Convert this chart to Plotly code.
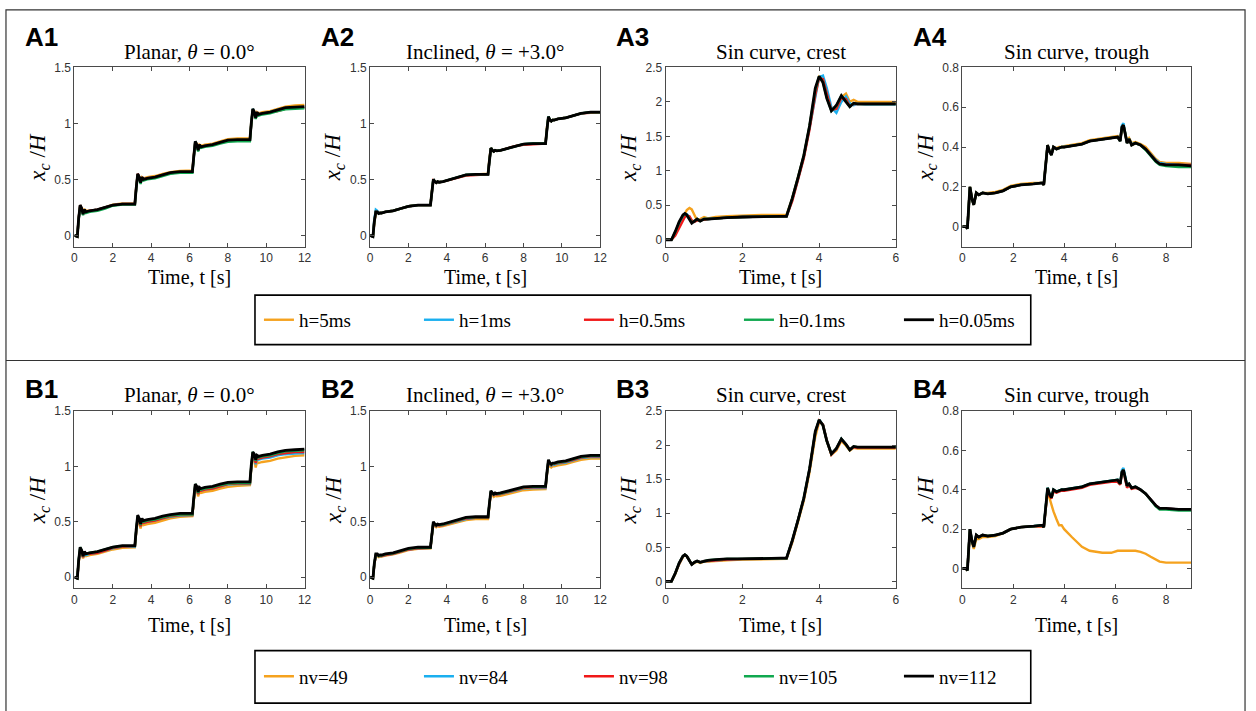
import plotly.graph_objects as go

# ---------------------------------------------------------------- data
# time grids [s]
T_STEP = [0, 0.15, 0.22, 0.3, 0.38, 0.45, 0.52, 0.6, 0.8, 1.2,
          1.6, 2.0, 2.5, 3.15, 3.22, 3.3, 3.38, 3.45, 3.52, 3.6,
          3.8, 4.2, 4.6, 5.0, 5.5, 6.15, 6.22, 6.3, 6.38, 6.45,
          6.52, 6.6, 6.8, 7.2, 7.6, 8.0, 8.5, 9.15, 9.22, 9.3,
          9.38, 9.45, 9.52, 9.6, 9.8, 10.2, 10.6, 11.0, 11.5, 12.0]
T_CREST = [0, 0.15, 0.25, 0.35, 0.45, 0.5, 0.55, 0.62, 0.68, 0.75,
           0.82, 0.9, 1.0, 1.1, 1.3, 1.6, 2.0, 2.5, 3.0, 3.15,
           3.3, 3.45, 3.6, 3.75, 3.9, 4.0, 4.1, 4.2, 4.32, 4.45,
           4.58, 4.7, 4.8, 4.9, 5.0, 5.2, 5.5, 6.0]
T_TROUGH = [0, 0.15, 0.2, 0.3, 0.38, 0.45, 0.55, 0.65, 0.8, 1.0,
            1.3, 1.6, 1.9, 2.3, 2.8, 3.15, 3.2, 3.28, 3.35, 3.42,
            3.5, 3.58, 3.7, 3.8, 3.9, 4.0, 4.3, 4.7, 5.0, 5.5,
            5.85, 6.1, 6.2, 6.27, 6.33, 6.4, 6.47, 6.55, 6.65, 6.8,
            7.0, 7.2, 7.4, 7.6, 7.75, 8.0, 8.5, 9.0]

H_LABELS = ["h=5ms", "h=1ms", "h=0.5ms", "h=0.1ms", "h=0.05ms"]
NV_LABELS = ["nv=49", "nv=84", "nv=98", "nv=105", "nv=112"]

# A1: planar, time-step study
A1_H5 = [0, -0.01, 0.15, 0.27, 0.24, 0.20, 0.23, 0.22, 0.22, 0.23,
         0.25, 0.275, 0.285, 0.285, 0.43, 0.55, 0.52, 0.48, 0.52, 0.51,
         0.52, 0.53, 0.55, 0.565, 0.575, 0.58, 0.71, 0.84, 0.82, 0.77,
         0.81, 0.80, 0.81, 0.82, 0.84, 0.86, 0.865, 0.865, 1.01, 1.13,
         1.11, 1.06, 1.10, 1.09, 1.10, 1.11, 1.13, 1.15, 1.16, 1.165]
A1_H1 = [0, -0.01, 0.15, 0.27, 0.24, 0.19, 0.23, 0.21, 0.22, 0.23,
         0.25, 0.27, 0.28, 0.28, 0.42, 0.55, 0.52, 0.47, 0.52, 0.50,
         0.51, 0.52, 0.54, 0.555, 0.565, 0.565, 0.70, 0.84, 0.81, 0.76,
         0.80, 0.79, 0.80, 0.81, 0.83, 0.845, 0.85, 0.85, 1.00, 1.13,
         1.10, 1.05, 1.09, 1.08, 1.09, 1.10, 1.12, 1.135, 1.14, 1.145]
A1_H05 = [0, -0.01, 0.15, 0.27, 0.24, 0.19, 0.23, 0.21, 0.22, 0.23,
          0.25, 0.27, 0.28, 0.28, 0.42, 0.55, 0.52, 0.47, 0.52, 0.50,
          0.51, 0.52, 0.54, 0.555, 0.565, 0.565, 0.70, 0.83, 0.81, 0.76,
          0.80, 0.79, 0.80, 0.81, 0.83, 0.845, 0.85, 0.85, 0.99, 1.12,
          1.09, 1.05, 1.09, 1.08, 1.09, 1.10, 1.11, 1.13, 1.14, 1.14]
A1_H01 = [0, -0.01, 0.14, 0.26, 0.23, 0.18, 0.22, 0.20, 0.21, 0.22,
          0.24, 0.265, 0.275, 0.275, 0.41, 0.54, 0.51, 0.46, 0.51, 0.49,
          0.50, 0.51, 0.53, 0.55, 0.56, 0.56, 0.69, 0.83, 0.80, 0.75,
          0.79, 0.78, 0.79, 0.80, 0.82, 0.835, 0.84, 0.84, 0.99, 1.12,
          1.09, 1.04, 1.08, 1.07, 1.08, 1.09, 1.11, 1.125, 1.13, 1.135]
A1_H005 = [0, -0.01, 0.15, 0.27, 0.24, 0.19, 0.23, 0.21, 0.22, 0.23,
           0.25, 0.27, 0.28, 0.28, 0.42, 0.55, 0.52, 0.47, 0.52, 0.50,
           0.51, 0.52, 0.54, 0.56, 0.57, 0.57, 0.70, 0.84, 0.81, 0.76,
           0.81, 0.79, 0.80, 0.81, 0.83, 0.85, 0.855, 0.855, 1.00, 1.13,
           1.10, 1.05, 1.10, 1.08, 1.09, 1.10, 1.12, 1.14, 1.145, 1.15]

# A2: inclined, time-step study
A2_H5 = [0, -0.01, 0.11, 0.20, 0.21, 0.20, 0.20, 0.20, 0.21, 0.22,
         0.24, 0.26, 0.27, 0.27, 0.39, 0.50, 0.48, 0.47, 0.48, 0.475,
         0.48, 0.50, 0.52, 0.54, 0.545, 0.55, 0.68, 0.78, 0.76, 0.75,
         0.76, 0.755, 0.76, 0.78, 0.80, 0.815, 0.82, 0.825, 0.96, 1.06,
         1.03, 1.02, 1.03, 1.03, 1.04, 1.05, 1.07, 1.09, 1.10, 1.10]
A2_H1 = [0, -0.01, 0.14, 0.23, 0.22, 0.20, 0.20, 0.20, 0.21, 0.22,
         0.24, 0.26, 0.27, 0.27, 0.38, 0.50, 0.48, 0.47, 0.48, 0.475,
         0.48, 0.50, 0.52, 0.54, 0.545, 0.545, 0.66, 0.78, 0.76, 0.75,
         0.76, 0.755, 0.76, 0.78, 0.80, 0.815, 0.82, 0.82, 0.94, 1.06,
         1.03, 1.02, 1.03, 1.03, 1.04, 1.05, 1.07, 1.09, 1.10, 1.10]
A2_H05 = [0, -0.01, 0.12, 0.21, 0.21, 0.195, 0.20, 0.20, 0.21, 0.22,
          0.24, 0.26, 0.27, 0.27, 0.38, 0.49, 0.48, 0.47, 0.48, 0.475,
          0.48, 0.50, 0.52, 0.535, 0.54, 0.545, 0.66, 0.78, 0.76, 0.75,
          0.76, 0.755, 0.76, 0.78, 0.80, 0.81, 0.815, 0.82, 0.94, 1.05,
          1.03, 1.02, 1.03, 1.03, 1.04, 1.05, 1.07, 1.09, 1.095, 1.10]
A2_H01 = [0, -0.01, 0.12, 0.21, 0.21, 0.195, 0.20, 0.20, 0.21, 0.22,
          0.24, 0.26, 0.27, 0.27, 0.38, 0.50, 0.48, 0.47, 0.48, 0.475,
          0.48, 0.50, 0.52, 0.54, 0.545, 0.545, 0.66, 0.78, 0.76, 0.75,
          0.76, 0.755, 0.76, 0.78, 0.80, 0.815, 0.82, 0.82, 0.94, 1.06,
          1.03, 1.02, 1.03, 1.03, 1.04, 1.05, 1.07, 1.09, 1.10, 1.10]
A2_H005 = [0, -0.01, 0.12, 0.21, 0.21, 0.195, 0.20, 0.20, 0.21, 0.22,
           0.24, 0.26, 0.27, 0.27, 0.38, 0.50, 0.48, 0.47, 0.48, 0.475,
           0.48, 0.50, 0.52, 0.54, 0.545, 0.545, 0.66, 0.78, 0.76, 0.75,
           0.76, 0.755, 0.76, 0.78, 0.80, 0.815, 0.82, 0.82, 0.94, 1.06,
           1.03, 1.02, 1.03, 1.03, 1.04, 1.05, 1.07, 1.09, 1.10, 1.10]

# A3: sine curve crest, time-step study
A3_H5 = [0, 0, 0.08, 0.20, 0.32, 0.38, 0.43, 0.46, 0.44, 0.36,
         0.28, 0.30, 0.33, 0.31, 0.33, 0.34, 0.35, 0.36, 0.36, 0.36,
         0.60, 0.90, 1.21, 1.64, 2.14, 2.36, 2.31, 2.10, 1.90, 1.93,
         2.07, 2.12, 2.00, 2.03, 2.00, 2.00, 2.00, 2.00]
A3_H1 = [0, 0, 0.10, 0.22, 0.33, 0.37, 0.37, 0.33, 0.27, 0.26,
         0.29, 0.28, 0.30, 0.30, 0.31, 0.32, 0.33, 0.34, 0.34, 0.34,
         0.58, 0.88, 1.20, 1.62, 2.10, 2.36, 2.38, 2.20, 1.92, 1.84,
         2.00, 2.08, 1.98, 1.95, 1.97, 1.96, 1.96, 1.96]
A3_H05 = [0, 0, 0.06, 0.16, 0.28, 0.33, 0.35, 0.34, 0.28, 0.26,
          0.28, 0.28, 0.29, 0.30, 0.31, 0.32, 0.33, 0.33, 0.34, 0.34,
          0.56, 0.86, 1.18, 1.60, 2.10, 2.35, 2.33, 2.12, 1.88, 1.90,
          2.06, 2.04, 1.94, 1.97, 1.97, 1.97, 1.97, 1.97]
A3_H01 = [0, 0, 0.11, 0.25, 0.35, 0.38, 0.36, 0.30, 0.25, 0.27,
          0.30, 0.27, 0.30, 0.30, 0.31, 0.32, 0.33, 0.34, 0.34, 0.34,
          0.60, 0.90, 1.22, 1.65, 2.17, 2.37, 2.29, 2.06, 1.87, 1.94,
          2.09, 2.01, 1.93, 1.98, 1.97, 1.97, 1.97, 1.97]
A3_H005 = [0, 0, 0.12, 0.26, 0.36, 0.38, 0.36, 0.30, 0.24, 0.27,
           0.30, 0.27, 0.30, 0.30, 0.31, 0.32, 0.33, 0.34, 0.34, 0.34,
           0.60, 0.90, 1.22, 1.65, 2.20, 2.37, 2.28, 2.05, 1.87, 1.95,
           2.09, 2.00, 1.93, 1.98, 1.97, 1.97, 1.97, 1.97]

# A4: sine curve trough, time-step study
A4_H5 = [0, 0, -0.01, 0.20, 0.14, 0.11, 0.17, 0.16, 0.17, 0.17,
         0.175, 0.185, 0.205, 0.215, 0.22, 0.22, 0.21, 0.32, 0.41, 0.38,
         0.37, 0.40, 0.395, 0.40, 0.40, 0.405, 0.41, 0.42, 0.435, 0.445,
         0.45, 0.455, 0.44, 0.49, 0.51, 0.47, 0.43, 0.445, 0.42, 0.425,
         0.415, 0.40, 0.37, 0.34, 0.325, 0.32, 0.32, 0.315]
A4_H1 = [0, 0, -0.01, 0.20, 0.14, 0.11, 0.17, 0.16, 0.17, 0.165,
         0.17, 0.18, 0.20, 0.21, 0.215, 0.22, 0.21, 0.32, 0.41, 0.38,
         0.36, 0.40, 0.39, 0.395, 0.40, 0.40, 0.405, 0.415, 0.43, 0.44,
         0.445, 0.45, 0.43, 0.51, 0.52, 0.47, 0.42, 0.44, 0.415, 0.42,
         0.41, 0.39, 0.36, 0.335, 0.32, 0.315, 0.31, 0.31]
A4_H05 = [0, 0, -0.01, 0.20, 0.14, 0.11, 0.17, 0.16, 0.17, 0.165,
          0.17, 0.18, 0.20, 0.21, 0.215, 0.22, 0.21, 0.32, 0.41, 0.38,
          0.36, 0.40, 0.39, 0.395, 0.40, 0.40, 0.405, 0.415, 0.43, 0.44,
          0.445, 0.45, 0.43, 0.50, 0.51, 0.46, 0.42, 0.44, 0.41, 0.42,
          0.41, 0.39, 0.36, 0.33, 0.315, 0.31, 0.31, 0.31]
A4_H01 = [0, 0, -0.01, 0.20, 0.14, 0.11, 0.17, 0.16, 0.17, 0.165,
          0.17, 0.18, 0.20, 0.21, 0.215, 0.22, 0.21, 0.32, 0.41, 0.38,
          0.36, 0.40, 0.39, 0.395, 0.40, 0.40, 0.405, 0.415, 0.43, 0.44,
          0.445, 0.45, 0.43, 0.50, 0.51, 0.46, 0.42, 0.44, 0.41, 0.42,
          0.41, 0.385, 0.355, 0.325, 0.31, 0.305, 0.30, 0.30]
A4_H005 = [0, 0, -0.01, 0.20, 0.14, 0.11, 0.17, 0.16, 0.17, 0.165,
           0.17, 0.18, 0.20, 0.21, 0.215, 0.22, 0.21, 0.32, 0.41, 0.38,
           0.36, 0.40, 0.39, 0.395, 0.40, 0.40, 0.405, 0.415, 0.43, 0.44,
           0.445, 0.45, 0.43, 0.50, 0.51, 0.46, 0.42, 0.44, 0.41, 0.42,
           0.41, 0.39, 0.36, 0.33, 0.315, 0.31, 0.31, 0.305]

# B1: planar, vertex-count study
B1_NV49 = [0, -0.01, 0.13, 0.24, 0.21, 0.17, 0.20, 0.19, 0.20, 0.21,
           0.23, 0.25, 0.265, 0.27, 0.40, 0.52, 0.49, 0.44, 0.49, 0.47,
           0.48, 0.49, 0.51, 0.53, 0.545, 0.55, 0.68, 0.80, 0.78, 0.73,
           0.77, 0.76, 0.77, 0.78, 0.80, 0.815, 0.825, 0.83, 0.97, 1.08,
           1.06, 0.99, 1.04, 1.03, 1.04, 1.05, 1.07, 1.08, 1.095, 1.10]
B1_NV84 = [0, -0.01, 0.14, 0.26, 0.23, 0.18, 0.22, 0.20, 0.21, 0.22,
           0.24, 0.26, 0.275, 0.275, 0.41, 0.54, 0.51, 0.46, 0.51, 0.49,
           0.50, 0.51, 0.53, 0.545, 0.555, 0.56, 0.69, 0.82, 0.80, 0.75,
           0.79, 0.78, 0.79, 0.80, 0.82, 0.835, 0.84, 0.84, 0.98, 1.11,
           1.08, 1.02, 1.07, 1.06, 1.07, 1.08, 1.10, 1.11, 1.115, 1.12]
B1_NV98 = [0, -0.01, 0.14, 0.26, 0.23, 0.18, 0.22, 0.21, 0.21, 0.22,
           0.24, 0.265, 0.275, 0.28, 0.41, 0.54, 0.51, 0.46, 0.51, 0.49,
           0.50, 0.51, 0.53, 0.55, 0.56, 0.56, 0.69, 0.83, 0.80, 0.75,
           0.79, 0.78, 0.79, 0.80, 0.82, 0.84, 0.845, 0.845, 0.99, 1.12,
           1.09, 1.03, 1.08, 1.07, 1.08, 1.09, 1.11, 1.12, 1.13, 1.13]
B1_NV105 = [0, -0.01, 0.15, 0.27, 0.24, 0.19, 0.23, 0.21, 0.22, 0.23,
            0.25, 0.27, 0.28, 0.28, 0.42, 0.55, 0.52, 0.47, 0.52, 0.50,
            0.51, 0.52, 0.54, 0.555, 0.565, 0.565, 0.70, 0.84, 0.81, 0.76,
            0.80, 0.79, 0.80, 0.81, 0.83, 0.845, 0.85, 0.85, 1.00, 1.13,
            1.10, 1.05, 1.09, 1.08, 1.09, 1.10, 1.12, 1.135, 1.14, 1.145]
B1_NV112 = [0, -0.01, 0.15, 0.27, 0.24, 0.19, 0.23, 0.21, 0.22, 0.23,
            0.25, 0.27, 0.285, 0.285, 0.43, 0.56, 0.53, 0.48, 0.53, 0.51,
            0.52, 0.53, 0.55, 0.565, 0.575, 0.575, 0.71, 0.84, 0.82, 0.77,
            0.81, 0.80, 0.81, 0.82, 0.84, 0.855, 0.86, 0.86, 1.01, 1.13,
            1.11, 1.06, 1.10, 1.09, 1.10, 1.11, 1.13, 1.145, 1.15, 1.155]

# B2: inclined, vertex-count study
B2_NV49 = [0, -0.01, 0.11, 0.19, 0.19, 0.18, 0.185, 0.185, 0.195, 0.205,
           0.225, 0.245, 0.255, 0.26, 0.37, 0.48, 0.46, 0.45, 0.46, 0.455,
           0.46, 0.48, 0.50, 0.515, 0.525, 0.525, 0.64, 0.76, 0.74, 0.725,
           0.735, 0.73, 0.735, 0.75, 0.77, 0.785, 0.79, 0.795, 0.92, 1.03,
           1.00, 0.99, 1.00, 1.00, 1.01, 1.02, 1.04, 1.06, 1.07, 1.07]
B2_NV84 = [0, -0.01, 0.115, 0.20, 0.20, 0.19, 0.19, 0.19, 0.20, 0.21,
           0.23, 0.25, 0.26, 0.265, 0.375, 0.49, 0.47, 0.46, 0.47, 0.465,
           0.47, 0.49, 0.51, 0.525, 0.535, 0.535, 0.65, 0.77, 0.75, 0.74,
           0.745, 0.745, 0.75, 0.765, 0.785, 0.80, 0.805, 0.805, 0.93, 1.045,
           1.015, 1.005, 1.015, 1.015, 1.025, 1.035, 1.055, 1.075, 1.085, 1.085]
B2_NV98 = [0, -0.01, 0.115, 0.20, 0.20, 0.19, 0.19, 0.19, 0.20, 0.21,
           0.23, 0.25, 0.26, 0.265, 0.375, 0.49, 0.47, 0.46, 0.47, 0.465,
           0.47, 0.49, 0.51, 0.53, 0.535, 0.535, 0.65, 0.77, 0.75, 0.74,
           0.75, 0.745, 0.75, 0.77, 0.79, 0.805, 0.81, 0.81, 0.93, 1.05,
           1.02, 1.01, 1.02, 1.02, 1.03, 1.04, 1.06, 1.08, 1.09, 1.09]
B2_NV105 = [0, -0.01, 0.12, 0.205, 0.205, 0.19, 0.195, 0.195, 0.205, 0.215,
            0.235, 0.255, 0.265, 0.265, 0.375, 0.495, 0.475, 0.465, 0.475, 0.47,
            0.475, 0.495, 0.515, 0.535, 0.54, 0.54, 0.655, 0.775, 0.755, 0.745,
            0.755, 0.75, 0.755, 0.775, 0.795, 0.81, 0.815, 0.815, 0.935, 1.055,
            1.025, 1.015, 1.025, 1.025, 1.035, 1.045, 1.065, 1.085, 1.095, 1.095]
B2_NV112 = [0, -0.01, 0.12, 0.21, 0.21, 0.195, 0.20, 0.20, 0.21, 0.22,
            0.24, 0.26, 0.27, 0.27, 0.38, 0.50, 0.48, 0.47, 0.48, 0.475,
            0.48, 0.50, 0.52, 0.54, 0.545, 0.545, 0.66, 0.78, 0.76, 0.75,
            0.76, 0.755, 0.76, 0.78, 0.80, 0.815, 0.82, 0.82, 0.94, 1.06,
            1.03, 1.02, 1.03, 1.03, 1.04, 1.05, 1.07, 1.09, 1.10, 1.10]

# B3: sine curve crest, vertex-count study
B3_NV49 = [0, 0, 0.11, 0.25, 0.36, 0.38, 0.37, 0.31, 0.25, 0.27,
           0.29, 0.27, 0.29, 0.29, 0.30, 0.31, 0.32, 0.32, 0.33, 0.33,
           0.57, 0.87, 1.18, 1.60, 2.12, 2.34, 2.30, 2.06, 1.86, 1.92,
           2.06, 1.99, 1.92, 1.96, 1.95, 1.95, 1.95, 1.95]
B3_NV84 = [0, 0, 0.12, 0.26, 0.37, 0.39, 0.37, 0.31, 0.25, 0.28,
           0.30, 0.28, 0.30, 0.30, 0.31, 0.32, 0.33, 0.33, 0.34, 0.34,
           0.59, 0.89, 1.21, 1.64, 2.18, 2.37, 2.30, 2.07, 1.87, 1.94,
           2.09, 2.01, 1.93, 1.97, 1.97, 1.97, 1.97, 1.97]
B3_NV98 = [0, 0, 0.12, 0.26, 0.37, 0.39, 0.37, 0.31, 0.25, 0.28,
           0.30, 0.28, 0.30, 0.30, 0.31, 0.32, 0.33, 0.33, 0.34, 0.34,
           0.59, 0.89, 1.21, 1.64, 2.18, 2.36, 2.30, 2.07, 1.86, 1.94,
           2.08, 2.01, 1.93, 1.97, 1.96, 1.96, 1.96, 1.96]
B3_NV105 = [0, 0, 0.12, 0.27, 0.37, 0.39, 0.37, 0.31, 0.25, 0.28,
            0.30, 0.28, 0.30, 0.31, 0.32, 0.33, 0.33, 0.34, 0.34, 0.34,
            0.60, 0.90, 1.22, 1.65, 2.19, 2.37, 2.29, 2.06, 1.87, 1.95,
            2.09, 2.01, 1.93, 1.98, 1.97, 1.97, 1.97, 1.97]
B3_NV112 = [0, 0, 0.12, 0.27, 0.37, 0.39, 0.37, 0.31, 0.25, 0.28,
            0.30, 0.28, 0.30, 0.31, 0.32, 0.33, 0.33, 0.34, 0.34, 0.34,
            0.60, 0.90, 1.22, 1.65, 2.20, 2.37, 2.29, 2.06, 1.87, 1.95,
            2.09, 2.01, 1.93, 1.98, 1.97, 1.97, 1.97, 1.97]

# B4: sine curve trough, vertex-count study
B4_NV49 = [0, 0, -0.01, 0.19, 0.13, 0.10, 0.15, 0.15, 0.16, 0.16,
           0.165, 0.18, 0.20, 0.21, 0.215, 0.215, 0.21, 0.31, 0.39, 0.36,
           0.32, 0.29, 0.25, 0.22, 0.22, 0.20, 0.16, 0.11, 0.09, 0.08,
           0.08, 0.09, 0.09, 0.09, 0.09, 0.09, 0.09, 0.09, 0.09, 0.09,
           0.085, 0.075, 0.06, 0.045, 0.035, 0.03, 0.03, 0.03]
B4_NV84 = [0, 0, -0.01, 0.20, 0.14, 0.11, 0.17, 0.16, 0.17, 0.165,
           0.17, 0.18, 0.20, 0.21, 0.215, 0.22, 0.21, 0.32, 0.41, 0.38,
           0.36, 0.40, 0.39, 0.395, 0.40, 0.40, 0.405, 0.415, 0.43, 0.44,
           0.445, 0.45, 0.43, 0.50, 0.51, 0.46, 0.42, 0.43, 0.41, 0.415,
           0.40, 0.38, 0.35, 0.32, 0.305, 0.305, 0.30, 0.30]
B4_NV98 = [0, 0, -0.01, 0.20, 0.14, 0.11, 0.17, 0.16, 0.17, 0.165,
           0.17, 0.18, 0.20, 0.21, 0.215, 0.215, 0.21, 0.32, 0.40, 0.37,
           0.355, 0.39, 0.385, 0.39, 0.395, 0.395, 0.40, 0.41, 0.425, 0.435,
           0.44, 0.44, 0.425, 0.49, 0.50, 0.45, 0.41, 0.425, 0.405, 0.41,
           0.40, 0.38, 0.35, 0.32, 0.305, 0.305, 0.30, 0.30]
B4_NV105 = [0, 0, -0.01, 0.20, 0.14, 0.11, 0.17, 0.16, 0.17, 0.165,
            0.17, 0.18, 0.20, 0.21, 0.215, 0.22, 0.21, 0.32, 0.41, 0.38,
            0.36, 0.40, 0.39, 0.395, 0.40, 0.40, 0.405, 0.415, 0.43, 0.44,
            0.445, 0.45, 0.43, 0.49, 0.50, 0.46, 0.42, 0.43, 0.41, 0.415,
            0.40, 0.38, 0.35, 0.315, 0.30, 0.30, 0.295, 0.295]
B4_NV112 = [0, 0, -0.01, 0.20, 0.14, 0.11, 0.17, 0.16, 0.17, 0.165,
            0.17, 0.18, 0.20, 0.21, 0.215, 0.22, 0.21, 0.32, 0.41, 0.38,
            0.36, 0.40, 0.39, 0.395, 0.40, 0.40, 0.405, 0.415, 0.43, 0.44,
            0.445, 0.45, 0.43, 0.49, 0.50, 0.46, 0.42, 0.43, 0.41, 0.415,
            0.40, 0.38, 0.35, 0.32, 0.305, 0.305, 0.30, 0.30]

# ---------------------------------------------------------------- layout
W, H = 1256, 711
COLORS = ["#F5A21E", "#1AAFEF", "#F01818", "#10A84F", "#000000"]
WIDTHS = [2.4, 2.4, 2.4, 2.4, 2.8]
SERIF = "Liberation Serif"
SANS = "Liberation Sans"
AXIS_GREY = "#4a4a4a"

COLS = [(72, 304), (370, 602), (668, 900), (967, 1198)]
ROWS = [(61, 242), (408, 587)]
XTITLE_GAP = [31, 37]


def fx(px):
    return px / W


def fy(py):
    return 1 - py / H


PANELS = [
    # (row, col, tag, title, time grid, series, x max, x ticks, y range, y ticks)
    (0, 0, "A1", "Planar, <i>θ</i> = 0.0°", T_STEP,
     [A1_H5, A1_H1, A1_H05, A1_H01, A1_H005], 12, [0, 2, 4, 6, 8, 10, 12],
     [-0.1, 1.5], [0, 0.5, 1, 1.5]),
    (0, 1, "A2", "Inclined, <i>θ</i> = +3.0°", T_STEP,
     [A2_H5, A2_H1, A2_H05, A2_H01, A2_H005], 12, [0, 2, 4, 6, 8, 10, 12],
     [-0.1, 1.5], [0, 0.5, 1, 1.5]),
    (0, 2, "A3", "Sin curve, crest", T_CREST,
     [A3_H5, A3_H1, A3_H05, A3_H01, A3_H005], 6, [0, 2, 4, 6],
     [-0.1, 2.5], [0, 0.5, 1, 1.5, 2, 2.5]),
    (0, 3, "A4", "Sin curve, trough", T_TROUGH,
     [A4_H5, A4_H1, A4_H05, A4_H01, A4_H005], 9, [0, 2, 4, 6, 8],
     [-0.1, 0.8], [0, 0.2, 0.4, 0.6, 0.8]),
    (1, 0, "B1", "Planar, <i>θ</i> = 0.0°", T_STEP,
     [B1_NV49, B1_NV84, B1_NV98, B1_NV105, B1_NV112], 12, [0, 2, 4, 6, 8, 10, 12],
     [-0.1, 1.5], [0, 0.5, 1, 1.5]),
    (1, 1, "B2", "Inclined, <i>θ</i> = +3.0°", T_STEP,
     [B2_NV49, B2_NV84, B2_NV98, B2_NV105, B2_NV112], 12, [0, 2, 4, 6, 8, 10, 12],
     [-0.1, 1.5], [0, 0.5, 1, 1.5]),
    (1, 2, "B3", "Sin curve, crest", T_CREST,
     [B3_NV49, B3_NV84, B3_NV98, B3_NV105, B3_NV112], 6, [0, 2, 4, 6],
     [-0.1, 2.5], [0, 0.5, 1, 1.5, 2, 2.5]),
    (1, 3, "B4", "Sin curve, trough", T_TROUGH,
     [B4_NV49, B4_NV84, B4_NV98, B4_NV105, B4_NV112], 9, [0, 2, 4, 6, 8],
     [-0.1, 0.8], [0, 0.2, 0.4, 0.6, 0.8]),
]

fig = go.Figure()
layout = dict(
    width=W, height=H, margin=dict(l=0, r=0, t=0, b=0),
    paper_bgcolor="white", plot_bgcolor="white",
    font=dict(family=SERIF, color="black"),
)
annotations = []
shapes = []

axis_common = dict(
    showline=True, linecolor=AXIS_GREY, linewidth=1, mirror="ticks",
    ticks="inside", ticklen=4, tickcolor=AXIS_GREY, tickwidth=1,
    showgrid=False, zeroline=False,
    tickfont=dict(family=SANS, size=12, color="#333333"),
)

for i, (row, col, tag, title, tgrid, series, xmax, xt, yr, yt) in enumerate(PANELS, start=1):
    xname = "x" if i == 1 else f"x{i}"
    yname = "y" if i == 1 else f"y{i}"
    x0, x1 = COLS[col]
    ytop, ybot = ROWS[row]
    labels = H_LABELS if row == 0 else NV_LABELS
    legend_id = "legend" if row == 0 else "legend2"

    for k, vals in enumerate(series):
        fig.add_trace(go.Scatter(
            x=tgrid, y=vals, mode="lines", name=labels[k],
            line=dict(color=COLORS[k], width=WIDTHS[k]),
            xaxis=xname, yaxis=yname,
            legend=legend_id, showlegend=(col == 0),
        ))

    layout["xaxis" if i == 1 else f"xaxis{i}"] = dict(
        axis_common, domain=[fx(x0), fx(x1)], range=[0, xmax],
        tickvals=xt, anchor=yname,
    )
    layout["yaxis" if i == 1 else f"yaxis{i}"] = dict(
        axis_common, domain=[fy(ybot), fy(ytop)], range=yr,
        tickvals=yt, anchor=xname,
    )

    xc = (x0 + x1) / 2
    # panel tag
    annotations.append(dict(
        text=f"<b>{tag}</b>", x=fx(x0 - 33), y=fy(ytop - 31 if row == 0 else ytop - 22),
        xref="paper", yref="paper", xanchor="center", yanchor="middle",
        showarrow=False, font=dict(family=SANS, size=26, color="black"),
    ))
    # subplot title
    annotations.append(dict(
        text=title, x=fx(xc), y=fy(ytop - 16),
        xref="paper", yref="paper", xanchor="center", yanchor="middle",
        showarrow=False, font=dict(family=SERIF, size=21, color="black"),
    ))
    # x-axis title
    annotations.append(dict(
        text="Time, t [s]", x=fx(xc), y=fy(ybot + XTITLE_GAP[row]),
        xref="paper", yref="paper", xanchor="center", yanchor="middle",
        showarrow=False, font=dict(family=SERIF, size=20, color="black"),
    ))
    # y-axis title
    annotations.append(dict(
        text="<i>x<sub>c</sub></i> /<i>H</i>", x=fx(x0 - 36), y=fy((ytop + ybot) / 2),
        xref="paper", yref="paper", xanchor="center", yanchor="middle",
        textangle=-90, showarrow=False,
        font=dict(family=SERIF, size=23, color="black"),
    ))

# legend frames, outer frame and the divider between the two studies
for (ly0, ly1) in [(291, 341), (650, 703)]:
    shapes.append(dict(type="rect", xref="paper", yref="paper",
                       x0=fx(254), x1=fx(1036), y0=fy(ly1), y1=fy(ly0),
                       line=dict(color="black", width=1.6), fillcolor="rgba(0,0,0,0)"))
shapes.append(dict(type="rect", xref="paper", yref="paper",
                   x0=fx(3), x1=fx(1252), y0=fy(713), y1=fy(3),
                   line=dict(color="#333333", width=1.2), fillcolor="rgba(0,0,0,0)"))
shapes.append(dict(type="line", xref="paper", yref="paper",
                   x0=fx(3), x1=fx(1252), y0=fy(357), y1=fy(357),
                   line=dict(color="#333333", width=1.2)))

legend_common = dict(
    orientation="h", xanchor="left", yanchor="middle",
    font=dict(family=SERIF, size=19, color="black"),
    bgcolor="rgba(0,0,0,0)", borderwidth=0,
    entrywidth=115, itemwidth=30, tracegroupgap=0,
)
layout["legend"] = dict(legend_common, x=fx(258), y=fy(316))
layout["legend2"] = dict(legend_common, x=fx(258), y=fy(676))
layout["annotations"] = annotations
layout["shapes"] = shapes

fig.update_layout(**layout)
fig.write_html("out.html")
